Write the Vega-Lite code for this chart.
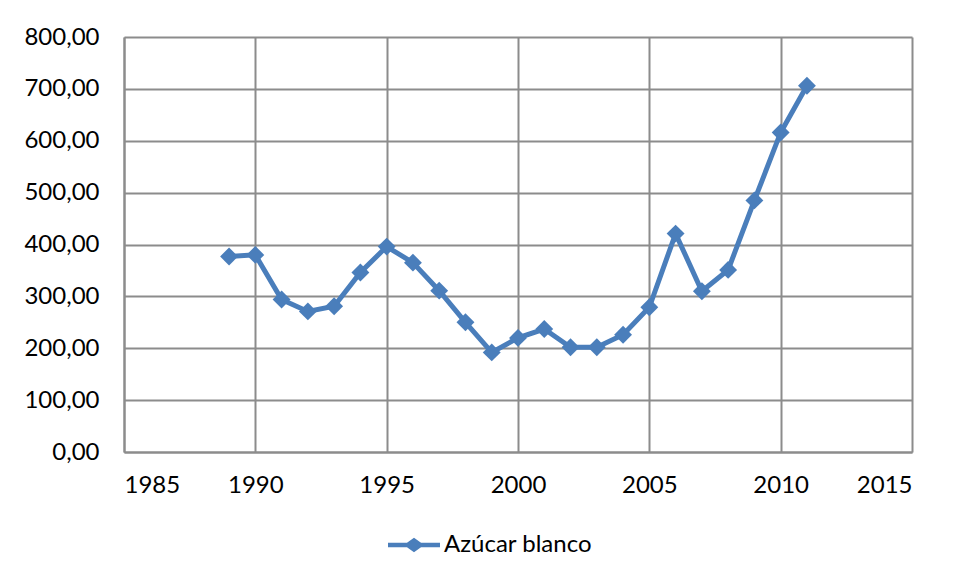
{
  "$schema": "https://vega.github.io/schema/vega-lite/v6.json",
  "width": 788,
  "height": 415,
  "autosize": {"type": "none"},
  "padding": {"left": 124, "top": 37, "right": 41, "bottom": 127},
  "background": "white",
  "config": {
    "locale": {"number": {"decimal": ",", "thousands": ".", "grouping": [3], "currency": ["", " €"]}},
    "font": "Lato",
    "view": {"stroke": null},
    "axis": {
      "labelFont": "Lato",
      "labelFontSize": 24,
      "labelColor": "#000000",
      "gridColor": "#8c8c8c",
      "gridWidth": 2,
      "gridOpacity": 1,
      "domainColor": "#8c8c8c",
      "domainWidth": 2,
      "ticks": false,
      "title": null
    }
  },
  "data": {
    "values": [
      {"year": 1989, "price": 377, "series": "Azúcar blanco"},
      {"year": 1990, "price": 380, "series": "Azúcar blanco"},
      {"year": 1991, "price": 294, "series": "Azúcar blanco"},
      {"year": 1992, "price": 271, "series": "Azúcar blanco"},
      {"year": 1993, "price": 281, "series": "Azúcar blanco"},
      {"year": 1994, "price": 346, "series": "Azúcar blanco"},
      {"year": 1995, "price": 396, "series": "Azúcar blanco"},
      {"year": 1996, "price": 365, "series": "Azúcar blanco"},
      {"year": 1997, "price": 311, "series": "Azúcar blanco"},
      {"year": 1998, "price": 250, "series": "Azúcar blanco"},
      {"year": 1999, "price": 192, "series": "Azúcar blanco"},
      {"year": 2000, "price": 220, "series": "Azúcar blanco"},
      {"year": 2001, "price": 237, "series": "Azúcar blanco"},
      {"year": 2002, "price": 202, "series": "Azúcar blanco"},
      {"year": 2003, "price": 202, "series": "Azúcar blanco"},
      {"year": 2004, "price": 226, "series": "Azúcar blanco"},
      {"year": 2005, "price": 279, "series": "Azúcar blanco"},
      {"year": 2006, "price": 421, "series": "Azúcar blanco"},
      {"year": 2007, "price": 310, "series": "Azúcar blanco"},
      {"year": 2008, "price": 351, "series": "Azúcar blanco"},
      {"year": 2009, "price": 485, "series": "Azúcar blanco"},
      {"year": 2010, "price": 616, "series": "Azúcar blanco"},
      {"year": 2011, "price": 706, "series": "Azúcar blanco"}
    ]
  },
  "mark": {
    "type": "line",
    "strokeWidth": 5,
    "point": {"shape": "diamond", "size": 320, "filled": true, "opacity": 1}
  },
  "encoding": {
    "x": {
      "field": "year",
      "type": "quantitative",
      "scale": {"domain": [1985, 2015], "nice": false, "zero": false},
      "axis": {"values": [1985, 1990, 1995, 2000, 2005, 2010, 2015], "format": "d", "labelPadding": 21, "grid": true, "domain": true}
    },
    "y": {
      "field": "price",
      "type": "quantitative",
      "scale": {"domain": [0, 800], "nice": false},
      "axis": {"values": [0, 100, 200, 300, 400, 500, 600, 700, 800], "format": ".2f", "labelPadding": 25, "grid": true, "domain": true}
    },
    "color": {
      "field": "series",
      "type": "nominal",
      "scale": {"range": ["#4a7ebb"]},
      "legend": {
        "title": null,
        "orient": "none",
        "legendX": 264,
        "legendY": 482,
        "symbolType": "M-1,-0.09L-0.27,-0.09L0,-0.28L0.27,-0.09L1,-0.09L1,0.09L0.27,0.09L0,0.28L-0.27,0.09L-1,0.09Z",
        "symbolSize": 2704,
        "symbolFillColor": "#4a7ebb",
        "symbolStrokeColor": "#4a7ebb",
        "symbolStrokeWidth": 0,
        "symbolOpacity": 1,
        "labelFont": "Lato",
        "labelFontSize": 24,
        "labelColor": "#000000",
        "labelOffset": 4
      }
    }
  }
}
